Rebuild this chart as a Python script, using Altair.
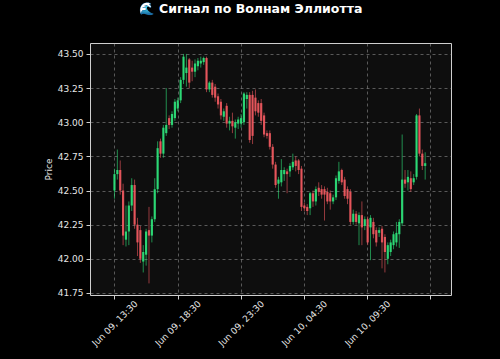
import altair as alt
import pandas as pd

# --- data ---------------------------------------------------------------
open_ = [42.50, 42.62, 42.65, 42.50, 42.14, 42.20, 42.39, 42.54, 42.25, 42.21,
         41.98, 42.03, 42.21, 42.17, 42.29, 42.51, 42.86, 42.77, 42.92, 43.03,
         42.98, 43.03, 43.10, 43.16, 43.31, 43.36, 43.46, 43.40, 43.37, 43.41,
         43.43, 43.44, 43.47, 43.24, 43.29, 43.26, 43.19, 43.15, 43.04, 43.12,
         42.99, 43.01, 42.96, 42.99, 42.99, 43.00, 43.17, 43.20, 43.20, 43.18,
         43.14, 43.14, 43.05, 42.92, 42.92, 42.82, 42.69, 42.55, 42.56, 42.62,
         42.64, 42.64, 42.67, 42.72, 42.72, 42.66, 42.39, 42.38, 42.37, 42.48,
         42.42, 42.52, 42.51, 42.51, 42.49, 42.48, 42.42, 42.45, 42.57, 42.65,
         42.58, 42.51, 42.49, 42.27, 42.33, 42.26, 42.32, 42.24, 42.29, 42.23,
         42.27, 42.21, 42.19, 42.22, 42.16, 42.00, 42.05, 42.10, 42.12, 42.18,
         42.26, 42.58, 42.56, 42.59, 42.56, 42.60, 43.05, 42.77, 42.68]
high = [42.66, 42.80, 42.72, 42.55, 42.39, 42.42, 42.59, 42.58, 42.30, 42.24,
        42.10, 42.22, 42.38, 42.31, 42.59, 42.86, 42.88, 42.98, 43.25, 43.05,
        43.08, 43.17, 43.18, 43.33, 43.50, 43.50, 43.47, 43.45, 43.46, 43.47,
        43.48, 43.48, 43.48, 43.30, 43.31, 43.28, 43.21, 43.17, 43.10, 43.14,
        43.04, 43.07, 43.02, 43.04, 43.06, 43.22, 43.22, 43.22, 43.23, 43.24,
        43.16, 43.17, 43.07, 42.94, 42.94, 42.84, 42.71, 42.60, 42.73, 42.67,
        42.66, 42.70, 42.77, 42.75, 42.73, 42.68, 42.41, 42.40, 42.49, 42.50,
        42.53, 42.56, 42.54, 42.53, 42.52, 42.50, 42.47, 42.61, 42.71, 42.66,
        42.60, 42.53, 42.51, 42.36, 42.35, 42.34, 42.42, 42.31, 42.31, 42.32,
        42.30, 42.23, 42.23, 42.24, 42.18, 42.12, 42.14, 42.20, 42.27, 42.29,
        42.91, 42.65, 42.65, 42.64, 42.62, 43.06, 43.10, 42.80, 42.78]
low = [42.44, 42.58, 42.47, 42.10, 42.09, 42.10, 42.35, 42.22, 42.02, 41.97,
       41.90, 41.95, 41.82, 42.12, 42.27, 42.48, 42.74, 42.74, 42.90, 42.95,
       42.96, 43.01, 43.08, 43.14, 43.28, 43.26, 43.25, 43.30, 43.33, 43.38,
       43.40, 43.42, 43.22, 43.22, 43.18, 43.15, 43.10, 43.02, 43.01, 42.96,
       42.94, 42.92, 42.88, 42.95, 42.96, 42.98, 43.10, 42.85, 42.84, 43.05,
       43.04, 42.98, 42.89, 42.88, 42.80, 42.66, 42.52, 42.44, 42.53, 42.57,
       42.48, 42.60, 42.65, 42.64, 42.62, 42.35, 42.35, 42.32, 42.32, 42.38,
       42.39, 42.46, 42.44, 42.28, 42.40, 42.36, 42.40, 42.43, 42.55, 42.54,
       42.44, 42.40, 42.25, 42.25, 42.25, 42.10, 42.10, 42.21, 42.10, 41.99,
       42.15, 42.09, 42.16, 41.93, 41.90, 41.96, 42.02, 42.07, 42.09, 42.08,
       42.24, 42.52, 42.50, 42.49, 42.54, 42.58, 42.75, 42.65, 42.58]
close = [42.62, 42.65, 42.50, 42.17, 42.20, 42.39, 42.54, 42.25, 42.12, 42.00,
         42.05, 42.20, 42.17, 42.29, 42.51, 42.81, 42.77, 42.96, 42.98, 42.98,
         43.06, 43.15, 43.16, 43.31, 43.48, 43.40, 43.29, 43.37, 43.43, 43.45,
         43.45, 43.47, 43.24, 43.29, 43.20, 43.18, 43.13, 43.05, 43.08, 42.99,
         43.01, 42.97, 43.00, 43.02, 43.03, 43.21, 43.20, 42.87, 42.90, 43.08,
         43.07, 43.01, 42.91, 42.90, 42.82, 42.69, 42.54, 42.58, 42.65, 42.65,
         42.62, 42.68, 42.71, 42.68, 42.65, 42.38, 42.37, 42.35, 42.48, 42.42,
         42.51, 42.49, 42.47, 42.47, 42.42, 42.42, 42.45, 42.59, 42.64, 42.56,
         42.46, 42.44, 42.27, 42.33, 42.27, 42.32, 42.23, 42.29, 42.12, 42.30,
         42.18, 42.12, 42.21, 42.12, 42.05, 42.10, 42.12, 42.18, 42.19, 42.27,
         42.58, 42.55, 42.60, 42.51, 42.59, 43.05, 42.77, 42.68, 42.70]

start_time = "2025-06-09 13:30"
end_time = "2025-06-10 14:05"
y_ticks = [41.75, 42.00, 42.25, 42.50, 42.75, 43.00, 43.25, 43.50]
x_tick_hours = [13.5, 18.5, 23.5, 28.5, 33.5, 38.5]
x_tick_labels = ["Jun 09, 13:30", "Jun 09, 18:30", "Jun 09, 23:30",
                 "Jun 10, 04:30", "Jun 10, 09:30", ""]

# --- frame --------------------------------------------------------------
times = pd.date_range(start_time, end_time, periods=len(close))
day0 = pd.Timestamp("2025-06-09 00:00")
df = pd.DataFrame({
    "hours": (times - day0) / pd.Timedelta(hours=1),
    "open": open_, "high": high, "low": low, "close": close,
})
df["dir"] = ["up" if c >= o else "down" for o, c in zip(open_, close)]

label_expr = "''"
for h, lab in reversed(list(zip(x_tick_hours, x_tick_labels))):
    label_expr = f"(abs(datum.value - {h}) < 0.01 ? '{lab}' : {label_expr})"

color = alt.Color("dir:N", scale=alt.Scale(domain=["up", "down"],
                                           range=["#2ee27a", "#f0595f"]),
                  legend=None)

x = alt.X("hours:Q", scale=alt.Scale(domain=[11.96, 39.73], nice=False, zero=False),
          axis=alt.Axis(values=x_tick_hours, labelExpr=label_expr, title=None,
                        labelAngle=-45, labelAlign="center", labelBaseline="middle",
                        tickSize=4, labelPadding=24, grid=True))
yscale = alt.Scale(domain=[41.735, 43.58], nice=False, zero=False)
yaxis = alt.Axis(values=y_ticks, format=".2f", title="Price", tickSize=4,
                 labelPadding=3, titlePadding=4, grid=True)

base = alt.Chart(df)
wicks = base.mark_rule(strokeWidth=1, opacity=0.6).encode(
    x=x,
    y=alt.Y("low:Q", scale=yscale, axis=yaxis),
    y2="high:Q",
    color=color,
)
bodies = base.mark_bar(size=2.2, opacity=0.9).encode(
    x=x,
    y=alt.Y("open:Q", scale=yscale, axis=yaxis),
    y2="close:Q",
    color=color,
)

chart = (wicks + bodies).properties(
    width=361, height=252,
    title=alt.TitleParams("🌊 Сигнал по Волнам Эллиотта", fontSize=12.5,
                          fontWeight="bold", color="white", anchor="middle",
                          offset=28, dx=-20, font="DejaVu Sans"),
    autosize=alt.AutoSizeParams(type="none"),
    padding={"left": 90, "top": 43, "right": 49, "bottom": 64},
    background="#000000",
).configure_view(
    fill="#0e0e0e", stroke="#cfcfcf", strokeWidth=1,
).configure_axis(
    labelFont="DejaVu Sans", titleFont="DejaVu Sans",
    labelFontSize=9, titleFontSize=9, titleFontWeight="normal",
    labelColor="#e6e6e6", titleColor="#e6e6e6", tickColor="#cfcfcf",
    domain=False, gridColor="#bdbdbd", gridOpacity=0.55, gridDash=[3, 3],
    gridWidth=0.8,
)

chart.save("out.html", embed_options={"renderer": "svg", "actions": False})
